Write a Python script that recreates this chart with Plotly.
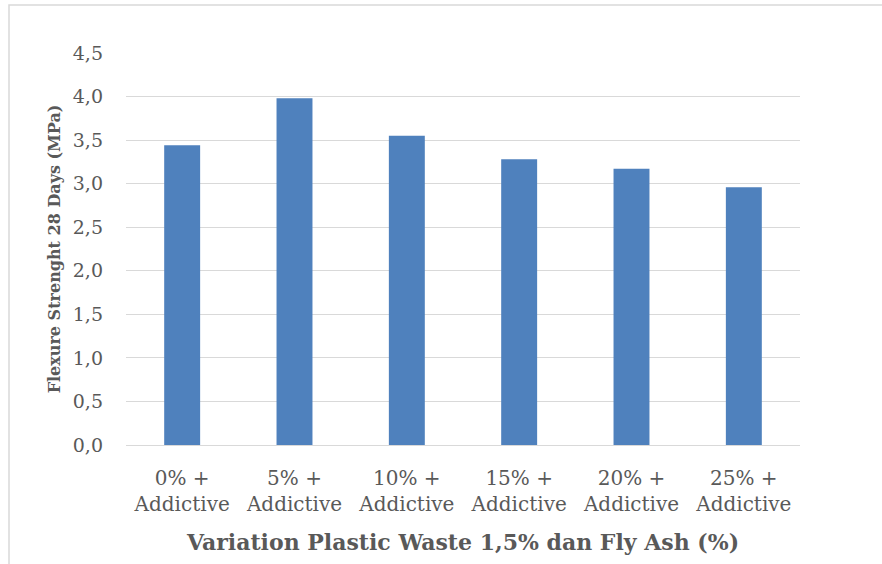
import plotly.graph_objects as go

categories = ["0% +<br>Addictive", "5% +<br>Addictive", "10% +<br>Addictive",
              "15% +<br>Addictive", "20% +<br>Addictive", "25% +<br>Addictive"]
flexure_strength = [3.44, 3.98, 3.55, 3.28, 3.17, 2.96]
y_tick_values = [0, 0.5, 1.0, 1.5, 2.0, 2.5, 3.0, 3.5, 4.0, 4.5]
y_tick_labels = ["0,0", "0,5", "1,0", "1,5", "2,0", "2,5", "3,0", "3,5", "4,0", "4,5"]

TEXT = "#595959"
GRID = "#d9d9d9"
FONT = "DejaVu Serif"

fig = go.Figure(go.Bar(
    x=categories, y=flexure_strength,
    marker=dict(color="#4F81BD", line=dict(width=0)),
))

L, R, T, B = 126, 82, 53, 119
W, H = 882, 564
pw, ph = W - L - R, H - T - B

fig.update_layout(
    width=W, height=H,
    margin=dict(l=L, r=R, t=T, b=B, autoexpand=False),
    paper_bgcolor="white", plot_bgcolor="white",
    bargap=0.68,
    showlegend=False,
    font=dict(family=FONT, color=TEXT, size=20),
    xaxis=dict(
        showgrid=False, showline=False, zeroline=False,
        ticks="", ticklabelstandoff=19,
        tickfont=dict(size=20, color=TEXT, family=FONT),
        title=dict(text="<b>Variation Plastic Waste 1,5% dan Fly Ash (%)</b>",
                   font=dict(size=22, color=TEXT, family=FONT), standoff=19),
    ),
    yaxis=dict(
        range=[0, 4.5],
        tickvals=y_tick_values, ticktext=y_tick_labels,
        showgrid=True, gridcolor=GRID, gridwidth=1.3,
        zeroline=True, zerolinecolor=GRID, zerolinewidth=1.3,
        showline=False, ticks="", ticklabelstandoff=22,
        tickfont=dict(size=19, color=TEXT, family=FONT),
        title=dict(text="<b>Flexure Strenght 28 Days (MPa)</b>",
                   font=dict(size=16, color=TEXT, family=FONT), standoff=8),
    ),
    shapes=[dict(
        type="rect", xref="paper", yref="paper",
        x0=(9 - L) / pw, x1=(W + 10 - L) / pw,
        y0=(H - B - (H + 10)) / ph, y1=(H - B - 5) / ph,
        line=dict(color=GRID, width=1.5), fillcolor="rgba(0,0,0,0)",
        layer="below",
    )],
)

fig.write_html("out.html", config={"displayModeBar": False},
               post_script="document.body.style.margin='0';document.body.style.overflow='hidden';")
